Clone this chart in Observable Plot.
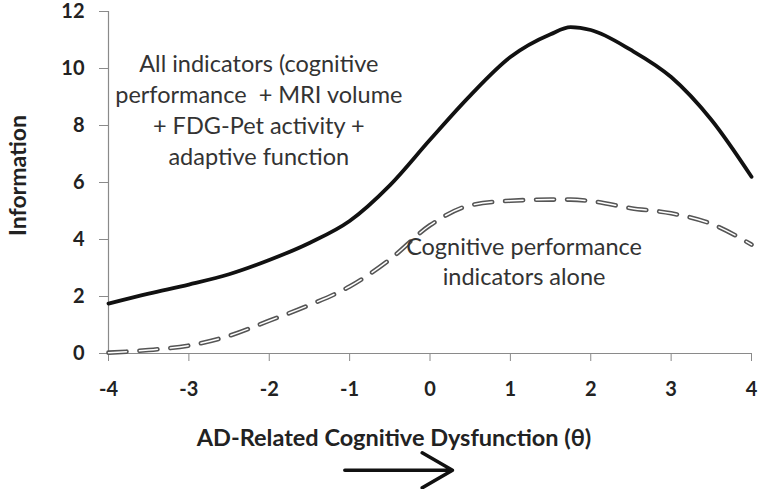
<!DOCTYPE html>
<html>
<head>
<meta charset="utf-8">
<script src="https://cdn.jsdelivr.net/npm/d3@7"></script>
<script src="https://cdn.jsdelivr.net/npm/@observablehq/plot@0.6"></script>
<style>
  html, body { margin: 0; padding: 0; background: #fff; }
  #chart { width: 760px; height: 489px; }
</style>
</head>
<body>
<div id="chart"></div>
<script>
// Theta grid (ability levels)
const theta = [-4, -3.5, -3, -2.5, -2, -1.5, -1, -0.5, 0, 0.5, 1, 1.5, 1.75, 2, 2.5, 3, 3.5, 4];
// Information: all indicators
const allIndicators = [1.75, 2.1, 2.42, 2.78, 3.28, 3.88, 4.65, 5.9, 7.5, 9.05, 10.4, 11.2, 11.45, 11.35, 10.65, 9.7, 8.2, 6.2];
// Information: cognitive performance indicators alone
const cognitiveOnly = [0.03, 0.12, 0.28, 0.62, 1.15, 1.7, 2.35, 3.3, 4.5, 5.2, 5.36, 5.4, 5.4, 5.35, 5.1, 4.92, 4.55, 3.82];
const xTicks = [-4, -3, -2, -1, 0, 1, 2, 3, 4];
const yTicks = [0, 2, 4, 6, 8, 10, 12];
const yLabel = "Information";
const xLabel = "AD-Related Cognitive Dysfunction (θ)";
const noteAll = "All indicators (cognitive\nperformance  + MRI volume\n+ FDG-Pet activity +\nadaptive function";
const noteCog = "Cognitive performance\nindicators alone";

const solid = theta.map((t, i) => ({theta: t, info: allIndicators[i]}));
const dashed = theta.map((t, i) => ({theta: t, info: cognitiveOnly[i]}));

const font = "Lato, 'Open Sans', sans-serif";
const dash = "18,13";

const plot = Plot.plot({
  width: 760,
  height: 489,
  marginLeft: 108,
  marginRight: 9,
  marginTop: 11,
  marginBottom: 136,
  style: {fontFamily: font, background: "#fff", overflow: "visible"},
  x: {domain: [-4, 4]},
  y: {domain: [0, 12]},
  marks: [
    Plot.axisX({ticks: xTicks, tickSize: 8, tickPadding: 20, fontSize: 20, fontWeight: "bold",
      stroke: "#8a8a8a", color: "#222", label: null, tickFormat: d => String(d)}),
    Plot.axisY({ticks: yTicks, tickSize: 9, tickPadding: 15, fontSize: 20, fontWeight: "bold",
      stroke: "#8a8a8a", color: "#222", label: null}),
    Plot.ruleY([0], {stroke: "#8a8a8a", strokeWidth: 1.2}),
    Plot.ruleX([-4], {stroke: "#8a8a8a", strokeWidth: 1.2}),
    Plot.line(dashed, {x: "theta", y: "info", curve: "monotone-x", stroke: "#555", strokeWidth: 4.6, strokeDasharray: dash}),
    Plot.line(dashed, {x: "theta", y: "info", curve: "monotone-x", stroke: "#fff", strokeWidth: 1.5, strokeDasharray: dash}),
    Plot.line(solid, {x: "theta", y: "info", curve: "monotone-x", stroke: "#111", strokeWidth: 3.8}),
    Plot.text([noteAll], {x: -2.13, y: 8.6, text: d => d, fontSize: 23.5, fill: "#333", lineHeight: 1.32, textAnchor: "middle", lineAnchor: "middle"}),
    Plot.text([noteCog], {x: 1.17, y: 3.27, text: d => d, fontSize: 23.5, fill: "#333", lineHeight: 1.28, textAnchor: "middle", lineAnchor: "middle"}),
    Plot.text([yLabel], {frameAnchor: "left", dx: -90, dy: -7, rotate: -90, textAnchor: "middle", lineAnchor: "middle", text: d => d, fontSize: 23, fontWeight: "bold", fill: "#222"}),
    Plot.text([xLabel], {frameAnchor: "bottom", dx: -36, dy: 92, text: d => d, fontSize: 23.5, fontWeight: "bold", fill: "#222"}),
    Plot.arrow([{x1: -1.06, x2: 0.28, y: -4.1}], {x1: "x1", x2: "x2", y1: "y", y2: "y", stroke: "#111", strokeWidth: 3.5, headLength: 15, clip: false})
  ]
});
document.getElementById("chart").appendChild(plot);
</script>
</body>
</html>
